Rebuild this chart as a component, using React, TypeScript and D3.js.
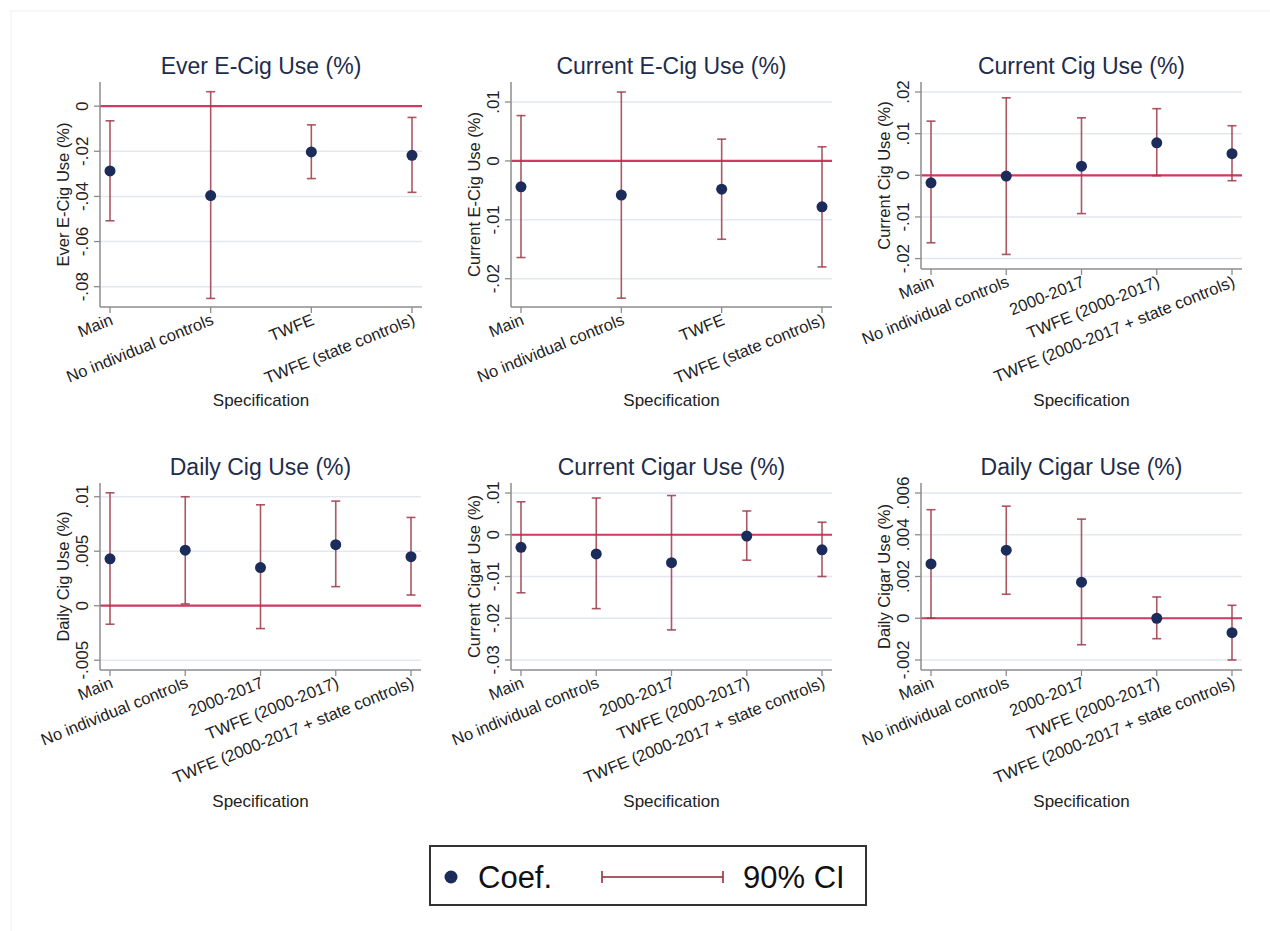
import * as d3 from "d3";

// categories
const specsShort = ["Main", "No individual controls", "TWFE", "TWFE (state controls)"];
const specsLong = [
  "Main",
  "No individual controls",
  "2000-2017",
  "TWFE (2000-2017)",
  "TWFE (2000-2017 + state controls)",
];

// Ever E-Cig Use
const everEcigCoef = [-0.0287, -0.0396, -0.0203, -0.0218];
const everEcigLo = [-0.0508, -0.0852, -0.0321, -0.0382];
const everEcigHi = [-0.0065, 0.0064, -0.0083, -0.005];
const everEcigTicks = [0, -0.02, -0.04, -0.06, -0.08];

// Current E-Cig Use
const curEcigCoef = [-0.0044, -0.0058, -0.0048, -0.0078];
const curEcigLo = [-0.0164, -0.0233, -0.0133, -0.018];
const curEcigHi = [0.0077, 0.0117, 0.0037, 0.0024];
const curEcigTicks = [0.01, 0, -0.01, -0.02];

// Current Cig Use
const curCigCoef = [-0.0018, -0.0002, 0.0022, 0.0078, 0.0052];
const curCigLo = [-0.0162, -0.019, -0.0092, -0.0001, -0.0013];
const curCigHi = [0.013, 0.0186, 0.0138, 0.016, 0.0119];
const curCigTicks = [0.02, 0.01, 0, -0.01, -0.02];

// Daily Cig Use
const dailyCigCoef = [0.0043, 0.0051, 0.0035, 0.0056, 0.0045];
const dailyCigLo = [-0.0017, 0.00016, -0.0021, 0.00175, 0.00098];
const dailyCigHi = [0.01036, 0.01, 0.00926, 0.0096, 0.0081];
const dailyCigTicks = [0.01, 0.005, 0, -0.005];

// Current Cigar Use
const curCigarCoef = [-0.003, -0.0046, -0.0067, -0.0003, -0.0036];
const curCigarLo = [-0.0139, -0.0177, -0.0228, -0.0061, -0.01];
const curCigarHi = [0.0079, 0.0088, 0.0094, 0.0057, 0.003];
const curCigarTicks = [0.01, 0, -0.01, -0.02, -0.03];

// Daily Cigar Use
const dailyCigarCoef = [0.0026, 0.00326, 0.00173, 0.0, -0.00069];
const dailyCigarLo = [0.0, 0.00115, -0.00127, -0.00098, -0.002];
const dailyCigarHi = [0.0052, 0.00537, 0.00475, 0.00102, 0.00062];
const dailyCigarTicks = [0.006, 0.004, 0.002, 0, -0.002];

const FONT = "'Liberation Sans', Arial, Helvetica, sans-serif";
const DOT = "#1b2b5a";
const CI = "#9e3a48";
const ZERO = "#d03a62";
const GRID = "#e3e7f0";
const AXIS = "#8c8c8c";
const TITLE = "#1e2c4c";

// Stata style labels: drop the leading zero
const fmt = (v: number) => {
  if (v === 0) return "0";
  const s = String(+v.toPrecision(3));
  return s.replace(/^(-?)0\./, "$1.");
};

type PanelProps = {
  title: string;
  yLabel: string;
  cats: string[];
  coef: number[];
  lo: number[];
  hi: number[];
  ticks: number[];
  domain: [number, number];
  x0: number;
  x1: number;
  y0: number;
  y1: number;
};

const Panel = ({ title, yLabel, cats, coef, lo, hi, ticks, domain, x0, x1, y0, y1 }: PanelProps) => {
  const y = d3.scaleLinear().domain(domain).range([y1, y0]);
  const x = d3
    .scaleLinear()
    .domain([0, cats.length - 1])
    .range([x0 + 10, x1 - 10]);
  const cx = (x0 + x1) / 2;
  const cy = (y0 + y1) / 2;
  const xTitleY = cats.length === 4 ? y1 + 99 : y1 + 137;

  return (
    <g fontFamily={FONT}>
      <text x={cx} y={y0 - 8} textAnchor="middle" fontSize={23} fill={TITLE}>
        {title}
      </text>
      {ticks.map((t) => (
        <g key={t}>
          <line x1={x0} x2={x1} y1={y(t)} y2={y(t)} stroke={GRID} strokeWidth={1.5} />
          <line x1={x0 - 6} x2={x0} y1={y(t)} y2={y(t)} stroke={AXIS} strokeWidth={1.3} />
          <text
            transform={`translate(${x0 - 12},${y(t)}) rotate(-90)`}
            textAnchor="middle"
            fontSize={17}
            fill="#222"
          >
            {fmt(t)}
          </text>
        </g>
      ))}
      <line x1={x0} x2={x1} y1={y(0)} y2={y(0)} stroke={ZERO} strokeWidth={2.2} />
      {cats.map((c, i) => (
        <g key={c}>
          <line x1={x(i)} x2={x(i)} y1={y1} y2={y1 + 6} stroke={AXIS} strokeWidth={1.3} />
          <text
            transform={`translate(${x(i) + 4},${y1 + 17}) rotate(-22)`}
            textAnchor="end"
            fontSize={16.5}
            fill="#222"
          >
            {c}
          </text>
          <g stroke={CI} strokeWidth={1.6} strokeOpacity={0.85}>
            <line x1={x(i)} x2={x(i)} y1={y(lo[i])} y2={y(hi[i])} />
            <line x1={x(i) - 4.5} x2={x(i) + 4.5} y1={y(lo[i])} y2={y(lo[i])} />
            <line x1={x(i) - 4.5} x2={x(i) + 4.5} y1={y(hi[i])} y2={y(hi[i])} />
          </g>
          <circle cx={x(i)} cy={y(coef[i])} r={5.5} fill={DOT} />
        </g>
      ))}
      <line x1={x0} x2={x0} y1={y0} y2={y1} stroke={AXIS} strokeWidth={1.5} />
      <line x1={x0} x2={x1} y1={y1} y2={y1} stroke={AXIS} strokeWidth={1.5} />
      <text
        transform={`translate(${x0 - 31},${cy}) rotate(-90)`}
        textAnchor="middle"
        fontSize={16.5}
        fill="#222"
      >
        {yLabel}
      </text>
      <text x={cx} y={xTitleY} textAnchor="middle" fontSize={17} fill="#222">
        Specification
      </text>
    </g>
  );
};

export default function App() {
  return (
    <svg
      width={1270}
      height={931}
      style={{ position: "absolute", left: 0, top: 0, background: "#fff" }}
    >
      <rect x={11} y={11} width={1400} height={1000} fill="none" stroke="#efefef" />
      <Panel
        title="Ever E-Cig Use (%)"
        yLabel="Ever E-Cig Use (%)"
        cats={specsShort}
        coef={everEcigCoef}
        lo={everEcigLo}
        hi={everEcigHi}
        ticks={everEcigTicks}
        domain={[-0.089, 0.0107]}
        x0={100}
        x1={422}
        y0={82}
        y1={307}
      />
      <Panel
        title="Current E-Cig Use (%)"
        yLabel="Current E-Cig Use (%)"
        cats={specsShort}
        coef={curEcigCoef}
        lo={curEcigLo}
        hi={curEcigHi}
        ticks={curEcigTicks}
        domain={[-0.0248, 0.0134]}
        x0={511}
        x1={832}
        y0={82}
        y1={307}
      />
      <Panel
        title="Current Cig Use (%)"
        yLabel="Current Cig Use (%)"
        cats={specsLong}
        coef={curCigCoef}
        lo={curCigLo}
        hi={curCigHi}
        ticks={curCigTicks}
        domain={[-0.0225, 0.0224]}
        x0={921}
        x1={1242}
        y0={82}
        y1={269}
      />
      <Panel
        title="Daily Cig Use (%)"
        yLabel="Daily Cig Use (%)"
        cats={specsLong}
        coef={dailyCigCoef}
        lo={dailyCigLo}
        hi={dailyCigHi}
        ticks={dailyCigTicks}
        domain={[-0.0059, 0.01126]}
        x0={100}
        x1={421}
        y0={483}
        y1={670}
      />
      <Panel
        title="Current Cigar Use (%)"
        yLabel="Current Cigar Use (%)"
        cats={specsLong}
        coef={curCigarCoef}
        lo={curCigarLo}
        hi={curCigarHi}
        ticks={curCigarTicks}
        domain={[-0.0324, 0.0124]}
        x0={511}
        x1={832}
        y0={483}
        y1={670}
      />
      <Panel
        title="Daily Cigar Use (%)"
        yLabel="Daily Cigar Use (%)"
        cats={specsLong}
        coef={dailyCigarCoef}
        lo={dailyCigarLo}
        hi={dailyCigarHi}
        ticks={dailyCigarTicks}
        domain={[-0.00248, 0.00648]}
        x0={921}
        x1={1242}
        y0={483}
        y1={670}
      />
      <g fontFamily={FONT}>
        <rect x={430} y={846} width={436} height={59} fill="#fff" stroke="#333" strokeWidth={2} />
        <circle cx={451} cy={877} r={6.5} fill={DOT} />
        <text x={478} y={888} fontSize={31} fill="#111">
          Coef.
        </text>
        <g stroke={CI} strokeWidth={2} strokeOpacity={0.85}>
          <line x1={602} x2={723} y1={877} y2={877} />
          <line x1={602} x2={602} y1={871} y2={883} />
          <line x1={723} x2={723} y1={871} y2={883} />
        </g>
        <text x={743} y={888} fontSize={31} fill="#111">
          90% CI
        </text>
      </g>
    </svg>
  );
}
